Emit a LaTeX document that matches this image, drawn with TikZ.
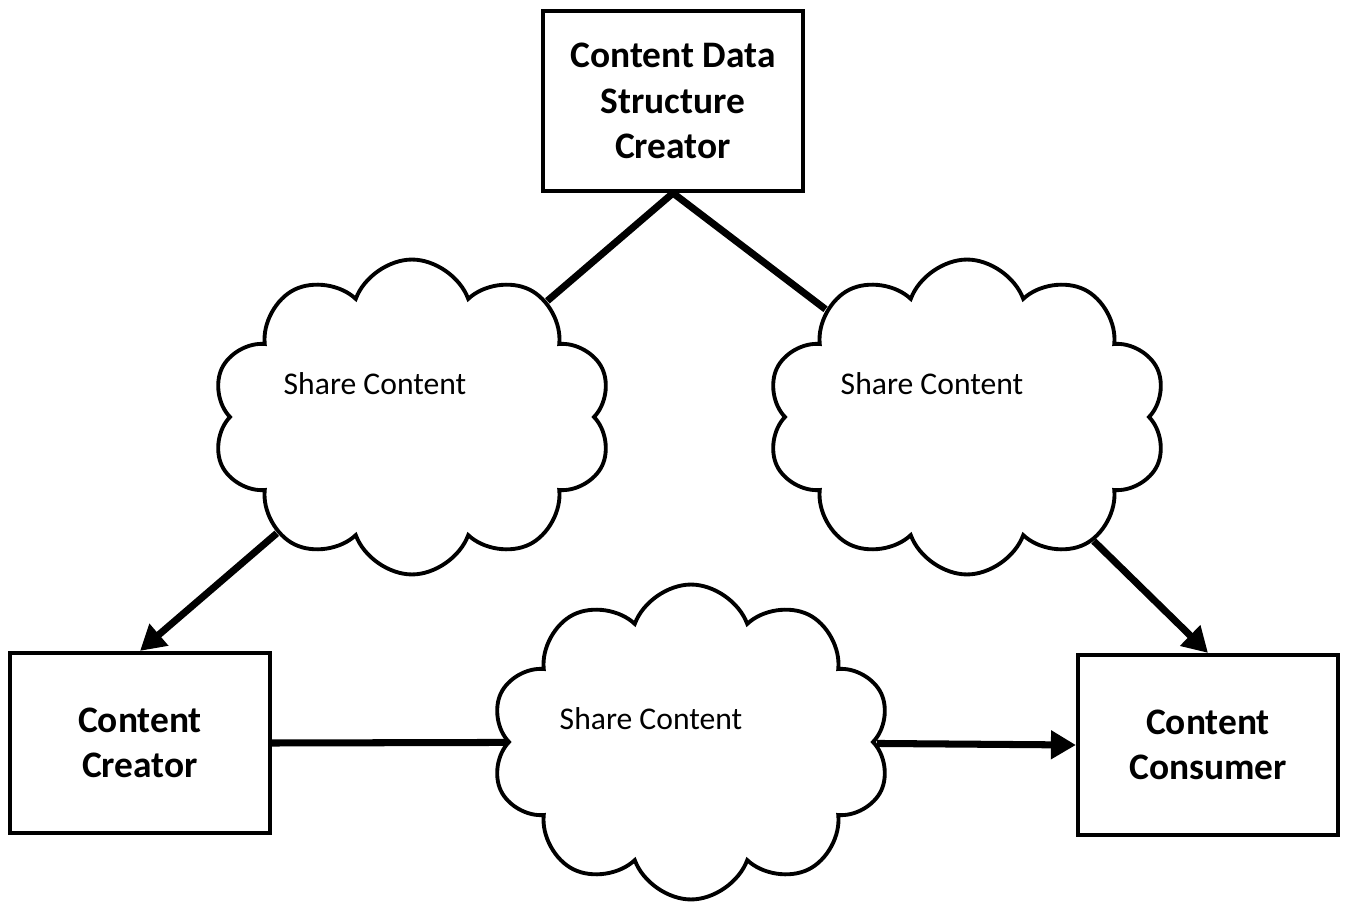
\documentclass[tikz,border=0pt]{standalone}
\usepackage{fontspec}
\setmainfont{Carlito}
\usetikzlibrary{arrows.meta,shapes.symbols}

\begin{document}
\begin{tikzpicture}[
          x=0.02cm, y=-0.02cm,
          box/.style={
            draw,
            line width=2.4pt,
            minimum width=5.2cm,
            minimum height=3.6cm,
            align=center,
            font=\fontsize{21.3}{26}\selectfont\bfseries,
          },
          share/.style={
            draw,
            cloud,
            cloud puffs=10,
            cloud puff arc=140,
            line width=2.2pt,
            minimum width=8cm,
            minimum height=6.3cm,
            inner sep=0pt,
          },
          sharetext/.style={font=\fontsize{18}{21}\selectfont},
          link/.style={line width=4pt},
          >={Triangle[length=0.5cm,width=0.55cm]},
        ]
        \useasboundingbox (0,0) rectangle (1346,902);
        \node[box] at (673,101) (dsc) {Content Data\\Structure\\Creator} ;
        \node[box] at (140,743) (creator) {Content\\Creator} ;
        \node[box] at (1208,745) (consumer) {Content\\Consumer} ;
        \node[share, label={[sharetext, xshift=-0.74cm, yshift=0.66cm]center:Share Content}] at (412,417) (cldl) {} ;
        \node[share, label={[sharetext, xshift=-0.7cm, yshift=0.66cm]center:Share Content}] at (967,417) (cldr) {} ;
        \node[share, label={[sharetext, xshift=-0.8cm, yshift=0.46cm]center:Share Content}] at (691,742) (cldb) {} ;
        \draw[link] (dsc.south)--(cldl) ;
        \draw[link] (dsc.south)--(cldr) ;
        \draw[link,->] (cldl)--(creator.north) ;
        \draw[link,->] (cldr)--(consumer.north) ;
        \draw[link] (creator.east)--(cldb) ;
        \draw[link,->] (cldb)--(consumer.west) ;
\end{tikzpicture}
\end{document}
